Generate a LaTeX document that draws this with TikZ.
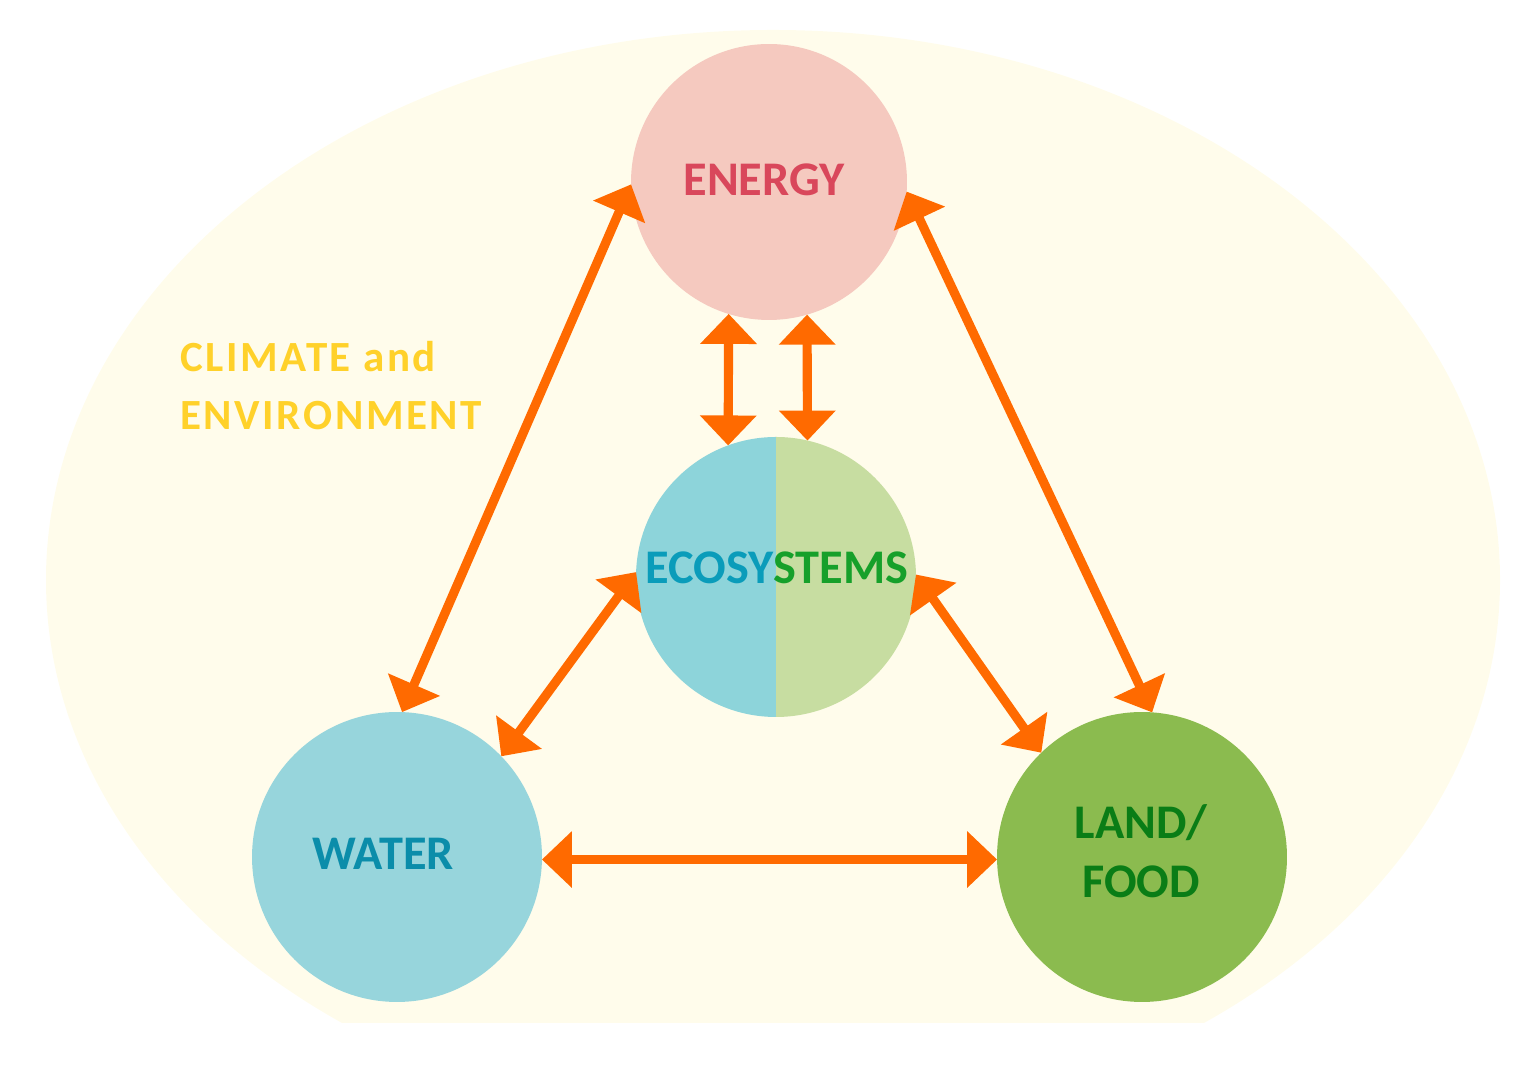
\documentclass[tikz,border=0pt]{standalone}
\usepackage{fontspec}
\setmainfont{Carlito}
\usetikzlibrary{arrows.meta}
\definecolor{bgc}{HTML}{FFFCEB}
\definecolor{enfill}{HTML}{F5C9BF}
\definecolor{entext}{HTML}{D9475B}
\definecolor{ecoL}{HTML}{8DD4DA}
\definecolor{ecoR}{HTML}{C7DDA1}
\definecolor{ecoLt}{HTML}{0A9CBA}
\definecolor{ecoRt}{HTML}{16A02A}
\definecolor{wfill}{HTML}{97D5DC}
\definecolor{wtext}{HTML}{0B8DAA}
\definecolor{lfill}{HTML}{8BBB4F}
\definecolor{ltext}{HTML}{0A7D16}
\definecolor{clim}{HTML}{FFD12A}
\definecolor{arr}{HTML}{FF6A00}
\begin{document}
\begin{tikzpicture}[x=0.02cm,y=0.02cm,
  ball/.style={circle,inner sep=0pt,outer sep=0pt},
  lbl/.style={inner sep=0pt,font=\bfseries\fontsize{27.5pt}{33pt}\selectfont,align=center},
  tipx/.tip={Triangle[width=1.1cm,length=0.6cm]},
  link/.style={draw=arr,line width=5.2pt,tipx-tipx}]
\useasboundingbox (0,0) rectangle (1533,1070);
\begin{scope}
\clip (0,47) rectangle (1533,1070);
\fill[bgc] (773,490) ellipse [x radius=727, y radius=550];
\end{scope}
% circles
\node[ball,fill=enfill,minimum size=5.52cm] (energy) at (769,888) {};
\fill[ecoL] (776,633) arc (90:270:140) -- cycle;
\fill[ecoR] (776,633) arc (90:-90:140) -- cycle;
\node[ball,minimum size=5.6cm] (eco) at (776,493) {};
\node[ball,fill=wfill,minimum size=5.8cm] (water) at (397,213) {};
\node[ball,fill=lfill,minimum size=5.8cm] (land) at (1142,213) {};
% labels
\node[lbl,text=entext] (entxt) at (764,890) {ENERGY};
\node[lbl] (ecotxt) at (777,502) {\textcolor{ecoLt}{ECOSY}\textcolor{ecoRt}{STEMS}};
\node[lbl,text=wtext] (wtxt) at (383,216) {WATER};
\node[lbl,text=ltext] (ltxt1) at (1141,247) {LAND/};
\node[lbl,text=ltext] (ltxt2) at (1141,188) {FOOD};
\node[inner sep=0pt,anchor=north west,align=left,text=clim,font=\bfseries\fontsize{24.5pt}{33pt}\selectfont\addfontfeature{LetterSpace=6}] (climtxt) at (180,729) {CLIMATE and\\ENVIRONMENT};
% arrows
\draw[link] (energy.253) -- (eco.110);
\draw[link] (energy.286) -- (eco.77);
\draw[link] (energy.181.7) -- (water.88.8);
\draw[link] (energy.356.6) -- (land.86.8);
\draw[link] (eco.178.4) -- (water.44);
\draw[link] (eco.1.6) -- (land.134.7);
\draw[link] (water.-1.2) -- (land.181);
\end{tikzpicture}
\end{document}
